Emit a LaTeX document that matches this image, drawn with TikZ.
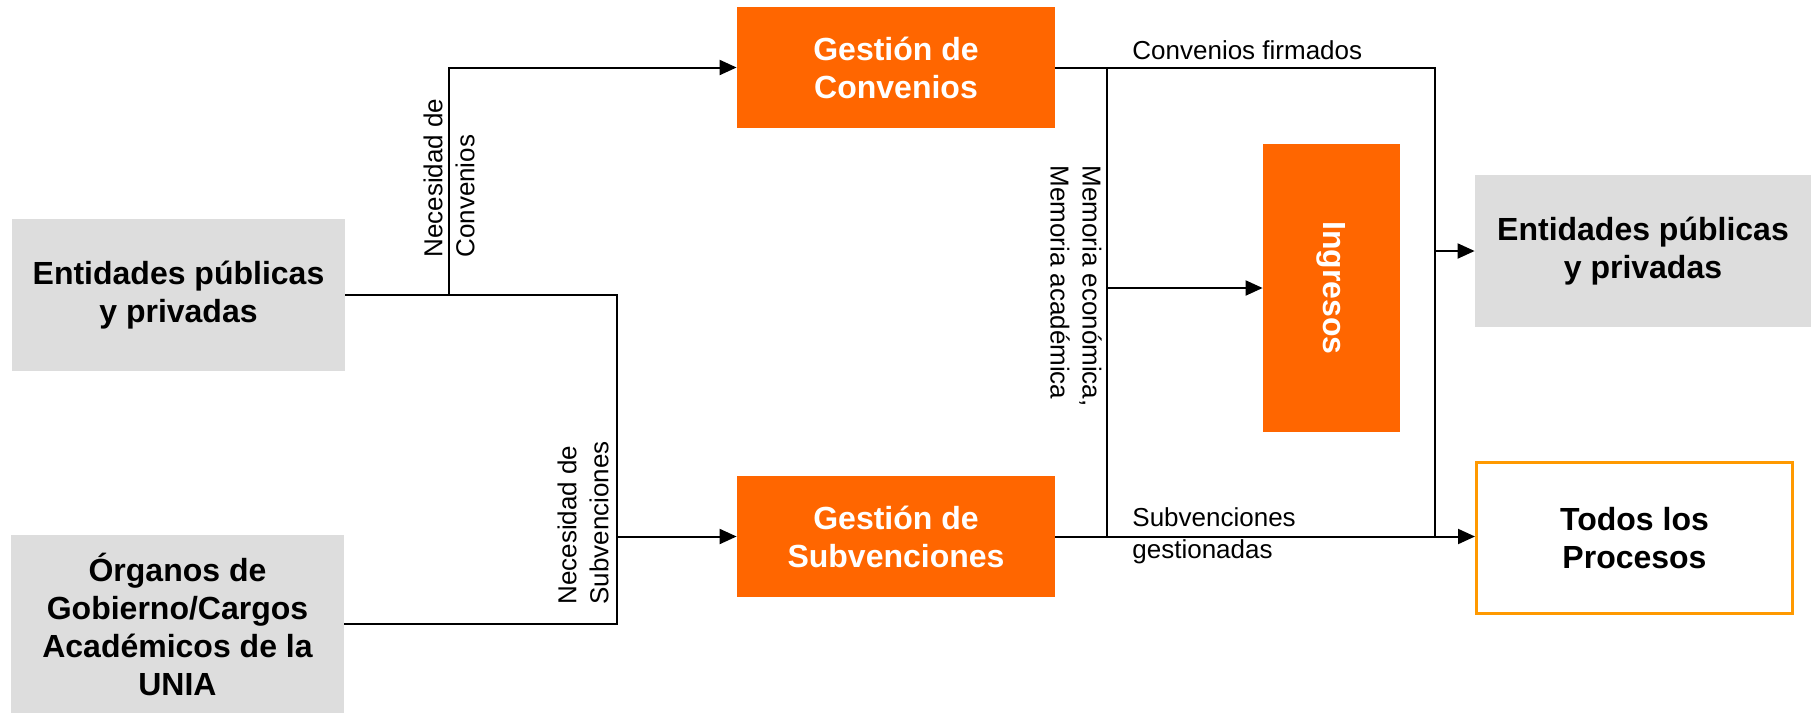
\documentclass[tikz,border=0pt]{standalone}
\usepackage{fontspec}
\setmainfont{Liberation Sans}
\usepackage{graphicx}
\usetikzlibrary{arrows.meta}
\definecolor{orangebox}{HTML}{FF6600}
\definecolor{graybox}{HTML}{DDDDDD}
\definecolor{orangeborder}{HTML}{FF9900}
\begin{document}
\begin{tikzpicture}[x=0.5pt,y=-0.5pt,
  base/.style={inner sep=0pt, align=center, font=\fontsize{16}{19}\selectfont\bfseries},
  graybx/.style={base, fill=graybox},
  orangebx/.style={base, fill=orangebox, text=white},
  outbx/.style={base, draw=orangeborder, line width=1.5pt, fill=white},
  lbl/.style={inner sep=0pt, font=\fontsize{13}{16}\selectfont, align=left},
  conn/.style={line width=1pt},
  arr/.style={conn, -{Triangle[length=8.5pt,width=7.5pt]}},
]
\useasboundingbox (0,0) rectangle (1811,713);
% boxes
\node[graybx, minimum width=166.5pt, minimum height=76pt] (ent1) at (178.5,295) {Entidades públicas\\y privadas};
\node[graybx, minimum width=166.5pt, minimum height=89pt] (org) at (177.5,624) {Órganos de\\Gobierno/Cargos\\Académicos de la\\UNIA};
\node[orangebx, minimum width=159pt, minimum height=60.5pt] (conv) at (896,67.5) {Gestión de\\Convenios};
\node[orangebx, minimum width=159pt, minimum height=60.5pt] (subv) at (896,536.5) {Gestión de\\Subvenciones};
\node[orangebx, minimum width=68.5pt, minimum height=144pt] (ingr) at (1331.5,288) {\rotatebox{-90}{Ingresos}};
\node[graybx, minimum width=168pt, minimum height=76pt] (ent2) at (1643,251) {Entidades públicas\\y privadas};
\node[outbx, minimum width=158pt, minimum height=75.5pt] (todos) at (1634.5,538) {Todos los\\Procesos};
% junctions
\coordinate (jc) at (449,295);
\coordinate (js) at (617,536.5);
\coordinate (mx) at (1107,536.5);
\coordinate (rx) at (1435,536.5);
% connectors
\draw[arr] (ent1.east) -- (jc) |- (conv.west);
\draw[arr] (ent1.east) -| (js) -- (subv.west);
\draw[conn] (org.east) -| (js);
\draw[conn] (conv.east) -| (rx);
\draw[arr] (ent2.west -| rx) -- (ent2.west);
\draw[conn] (conv.east -| mx) -- (mx);
\draw[arr] (ingr.west -| mx) -- (ingr.west);
\draw[arr] (subv.east) -- (subv.east -| todos.west);
% labels
\node[lbl, rotate=90, anchor=west] (lnc) at (449,258) {Necesidad de\\Convenios};
\node[lbl, rotate=90, anchor=west] (lns) at (583,605) {Necesidad de\\Subvenciones};
\node[lbl, rotate=-90, anchor=west] (lmem) at (1076,165) {Memoria económica,\\Memoria académica};
\node[lbl, anchor=west] (lcf) at (1132,50) {Convenios firmados};
\node[lbl, anchor=west] (lsg) at (1132,536) {Subvenciones\\gestionadas};
\end{tikzpicture}
\end{document}
